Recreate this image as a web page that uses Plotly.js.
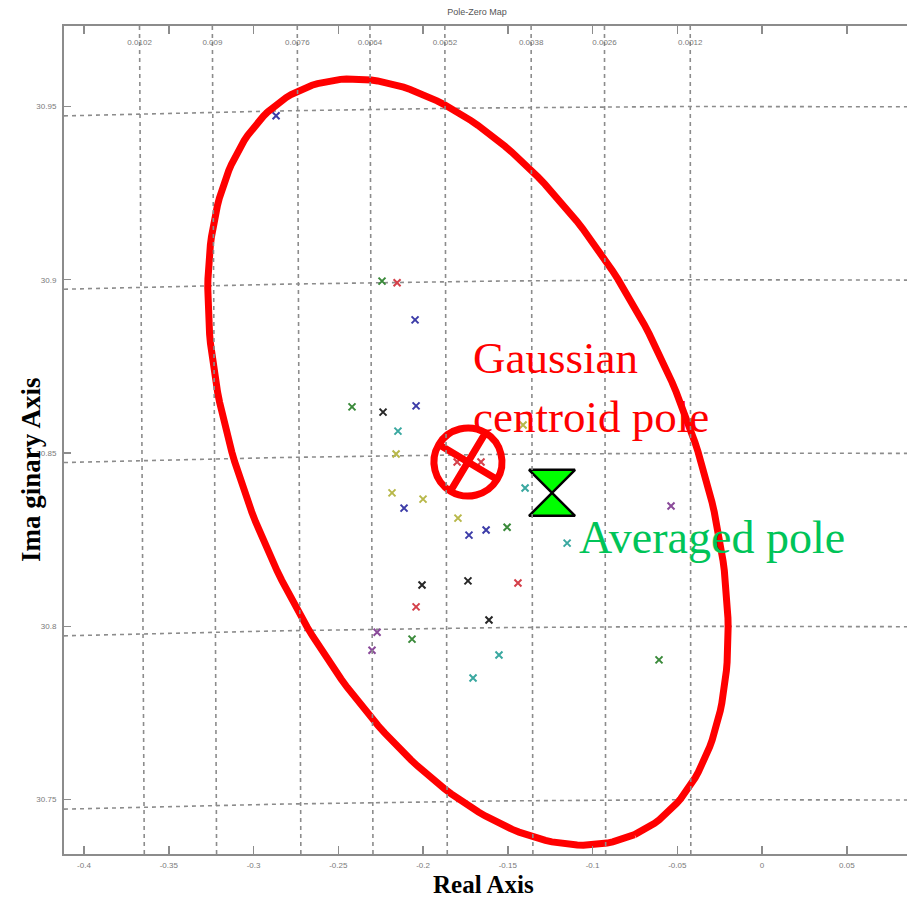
<!DOCTYPE html>
<html>
<head>
<meta charset="utf-8">
<title>Pole-Zero Map</title>
<script src="https://cdn.plot.ly/plotly-3.0.1.min.js"></script>
<style>
  html, body { margin: 0; padding: 0; background: #ffffff; }
  #chart { width: 907px; height: 899px; }
</style>
</head>
<body>
<div id="chart"></div>
<script>
// Axis ticks
const xTickVals = [-0.4, -0.35, -0.3, -0.25, -0.2, -0.15, -0.1, -0.05, 0, 0.05];
const xTickText = ['-0.4', '-0.35', '-0.3', '-0.25', '-0.2', '-0.15', '-0.1', '-0.05', '0', '0.05'];
const yTickVals = [30.75, 30.8, 30.85, 30.9, 30.95];
const yTickText = ['30.75', '30.8', '30.85', '30.9', '30.95'];

// s-plane grid: natural-frequency arcs and constant-damping rays
const wnGrid = [30.75, 30.8, 30.85, 30.9, 30.95];
const zetaLabels = ['0.0102', '0.009', '0.0076', '0.0064', '0.0052', '0.0038', '0.0026', '0.0012'];
const zetaRayX = [-0.3658, -0.3230, -0.2731, -0.2304, -0.1864, -0.1357, -0.0926, -0.0422]; // real part where each ray meets Im = 30.85
const rayRefIm = 30.85;
const zetaLabelIm = 30.9686;

// Identified poles (real / imaginary parts) and the run each belongs to
const poleRe = [-0.2867, -0.2242, -0.2153, -0.2047, -0.2419, -0.2236, -0.2041, -0.2148, -0.2159, -0.1799, -0.1658,
                -0.1410, -0.1398, -0.2183, -0.2000, -0.2112, -0.1794, -0.1729, -0.1628, -0.1504, -0.1150, -0.0537,
                -0.2006, -0.1735, -0.1440, -0.2041, -0.1611, -0.2271, -0.2301, -0.2065, -0.1552, -0.1705, -0.0608];
const poleIm = [30.9473, 30.8996, 30.8991, 30.8884, 30.8633, 30.8618, 30.8636, 30.8563, 30.8497, 30.8474, 30.8474,
                30.8581, 30.8399, 30.8385, 30.8367, 30.8341, 30.8312, 30.8263, 30.8278, 30.8286, 30.8240, 30.8347,
                30.8119, 30.8131, 30.8125, 30.8056, 30.8018, 30.7983, 30.7931, 30.7963, 30.7917, 30.7851, 30.7903];
const poleRun = ['b', 'g', 'r', 'b', 'g', 'k', 'b', 'c', 'y', 'r', 'r',
                 'y', 'c', 'y', 'y', 'b', 'y', 'b', 'b', 'g', 'c', 'm',
                 'k', 'k', 'r', 'r', 'k', 'm', 'm', 'g', 'c', 'c', 'g'];

// Summary poles
const gaussRe = [-0.1735];
const gaussIm = [30.8474];
const avgRe = [-0.1239];
const avgIm = [30.8385];

// Confidence ellipse around the Gaussian centroid (semi-axis vectors in data units)
const ellipseMajor = [0.0983, -0.1075];
const ellipseMinor = [-0.1179, -0.0258];

// Styling
const runColors = { b: '#3c3ca8', g: '#3a8a3a', r: '#d4404a', c: '#3aa8a0', y: '#b8b84a', k: '#262626', m: '#8a4a9a' };
const gridColor = '#8c8c8c';
const axisColor = '#8c8c8c';
const xRange = [-0.4118, 0.0855];
const yRange = [30.7343, 30.9732];

const traces = [];

// natural-frequency arcs
wnGrid.forEach(function (wn) {
  const xs = [], ys = [];
  const n = 80;
  for (let i = 0; i <= n; i++) {
    const x = xRange[0] + (xRange[1] - xRange[0]) * i / n;
    xs.push(x);
    ys.push(Math.sqrt(wn * wn - x * x));
  }
  traces.push({
    type: 'scatter', mode: 'lines', x: xs, y: ys, hoverinfo: 'skip', showlegend: false,
    line: { color: gridColor, width: 1.6, dash: '4px,4px' }
  });
});

// constant-damping rays through the origin
zetaRayX.forEach(function (xc) {
  traces.push({
    type: 'scatter', mode: 'lines', xaxis: 'x2', yaxis: 'y',
    x: [xc * yRange[0] / rayRefIm, xc * yRange[1] / rayRefIm],
    y: [yRange[0], yRange[1]],
    hoverinfo: 'skip', showlegend: false,
    line: { color: gridColor, width: 1.6, dash: '4px,4px' }
  });
});

// poles, one trace per run
Object.keys(runColors).forEach(function (run) {
  const xs = [], ys = [];
  poleRun.forEach(function (r, i) {
    if (r === run) { xs.push(poleRe[i]); ys.push(poleIm[i]); }
  });
  traces.push({
    type: 'scatter', mode: 'markers', x: xs, y: ys, showlegend: false,
    marker: { symbol: 'x-thin-open', size: 7, color: runColors[run], line: { color: runColors[run], width: 2 } }
  });
});

// confidence ellipse
(function () {
  const xs = [], ys = [];
  const n = 240;
  for (let i = 0; i <= n; i++) {
    const t = 2 * Math.PI * i / n;
    xs.push(gaussRe[0] + Math.cos(t) * ellipseMajor[0] + Math.sin(t) * ellipseMinor[0]);
    ys.push(gaussIm[0] + Math.cos(t) * ellipseMajor[1] + Math.sin(t) * ellipseMinor[1]);
  }
  traces.push({
    type: 'scatter', mode: 'lines', x: xs, y: ys, hoverinfo: 'skip', showlegend: false,
    line: { color: '#ff0000', width: 7 }
  });
})();

// Gaussian centroid pole
traces.push({
  type: 'scatter', mode: 'markers', x: gaussRe, y: gaussIm, showlegend: false,
  marker: { symbol: 'circle-x-open', size: 68, angle: -14, color: '#ff0000', line: { color: '#ff0000', width: 7 } }
});

// averaged pole
traces.push({
  type: 'scatter', mode: 'markers', x: avgRe, y: avgIm, showlegend: false,
  marker: { symbol: 'hourglass', size: 46, color: '#00ff00', line: { color: '#000000', width: 2.5 } }
});

const tickFont = { family: 'Liberation Sans, Arial, sans-serif', size: 8, color: '#7a7a7a' };

const layout = {
  width: 907,
  height: 899,
  margin: { l: 64, r: 0, t: 26, b: 45 },
  paper_bgcolor: '#ffffff',
  plot_bgcolor: '#ffffff',
  showlegend: false,
  title: {
    text: 'Pole-Zero Map',
    font: { family: 'Liberation Sans, Arial, sans-serif', size: 9, color: '#555555' },
    x: 0.526, xanchor: 'center', y: 0.9867, yanchor: 'middle'
  },
  xaxis: {
    range: xRange,
    tickmode: 'array', tickvals: xTickVals, ticktext: xTickText,
    ticks: 'inside', ticklen: 8, tickwidth: 1.5, tickcolor: axisColor,
    showline: true, linecolor: axisColor, linewidth: 2, mirror: 'ticks',
    showgrid: false, zeroline: false,
    tickfont: tickFont, ticklabelstandoff: 2
  },
  xaxis2: {
    range: xRange, overlaying: 'x', side: 'top', anchor: 'y',
    tickmode: 'array',
    tickvals: zetaRayX.map(function (xc) { return xc * zetaLabelIm / rayRefIm; }),
    ticktext: zetaLabels,
    ticks: '', ticklabelposition: 'inside',
    showline: false, showgrid: false, zeroline: false,
    tickfont: tickFont, ticklabelstandoff: 10
  },
  yaxis: {
    range: yRange,
    tickmode: 'array', tickvals: yTickVals, ticktext: yTickText,
    ticks: 'inside', ticklen: 7, tickwidth: 1.5, tickcolor: axisColor,
    showline: true, linecolor: axisColor, linewidth: 2, mirror: false,
    showgrid: false, zeroline: false,
    tickfont: tickFont, ticklabelstandoff: 4
  },
  annotations: [
    {
      text: 'Gaussian', xref: 'x', yref: 'y', x: -0.1717, y: 30.8774,
      xanchor: 'left', yanchor: 'middle', showarrow: false,
      font: { family: 'Liberation Serif, Times New Roman, serif', size: 45, color: '#ff0000' }
    },
    {
      text: 'centroid pole', xref: 'x', yref: 'y', x: -0.1717, y: 30.8604,
      xanchor: 'left', yanchor: 'middle', showarrow: false,
      font: { family: 'Liberation Serif, Times New Roman, serif', size: 45, color: '#ff0000' }
    },
    {
      text: 'Averaged pole', xref: 'x', yref: 'y', x: -0.1094, y: 30.8255,
      xanchor: 'left', yanchor: 'middle', showarrow: false,
      font: { family: 'Liberation Serif, Times New Roman, serif', size: 46, color: '#00c458' }
    },
    {
      text: '<b>Real Axis</b>', xref: 'paper', yref: 'paper', x: 0.4982, y: -0.0368,
      xanchor: 'center', yanchor: 'middle', showarrow: false, borderpad: 0,
      font: { family: 'Liberation Serif, Times New Roman, serif', size: 25, color: '#000000' }
    },
    {
      text: '<b>Ima ginary Axis</b>', xref: 'paper', yref: 'paper', x: -0.0391, y: 0.4638,
      xanchor: 'center', yanchor: 'middle', showarrow: false, textangle: -90,
      font: { family: 'Liberation Serif, Times New Roman, serif', size: 27, color: '#000000' }
    }
  ]
};

Plotly.newPlot('chart', traces, layout, { displayModeBar: false, staticPlot: true });
</script>
</body>
</html>
